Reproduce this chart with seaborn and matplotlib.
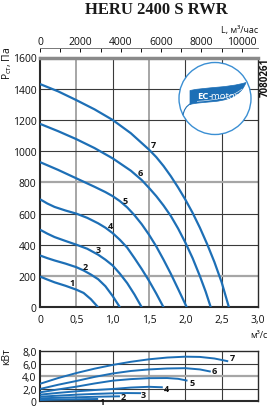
import numpy as np
import pandas as pd
import matplotlib
matplotlib.use("Agg")
import matplotlib.pyplot as plt
import seaborn as sns
from matplotlib.patches import Circle, PathPatch
from matplotlib.path import Path

sns.set_theme(style="white")
plt.rcParams['font.family'] = ['Open Sans', 'DejaVu Sans']

# ---------------- data ----------------
curve_names = ["1", "2", "3", "4", "5", "6", "7"]

q1 = [0, 0.1, 0.2, 0.35, 0.5, 0.6, 0.7, 0.8]
p1 = [197, 178, 160, 138, 113, 92, 52, 0]
q2 = [0, 0.1, 0.2, 0.35, 0.5, 0.6, 0.7, 0.8, 0.9, 1.0, 1.1]
p2 = [332, 315, 300, 280, 257, 236, 210, 180, 135, 72, 0]
q3 = [0, 0.1, 0.2, 0.35, 0.5, 0.65, 0.8, 0.9, 1.0, 1.1, 1.2, 1.3, 1.4]
p3 = [497, 472, 450, 425, 401, 375, 337, 305, 268, 215, 155, 82, 0]
q4 = [0, 0.1, 0.2, 0.35, 0.5, 0.65, 0.8, 0.9, 1.0, 1.1, 1.2, 1.3, 1.4, 1.5, 1.6, 1.7]
p4 = [692, 665, 643, 620, 600, 573, 538, 510, 475, 432, 382, 315, 245, 170, 88, 0]
q5 = [0, 0.25, 0.5, 0.75, 0.9, 1.0, 1.1, 1.2, 1.3, 1.4, 1.5, 1.6, 1.7, 1.8, 1.9, 2.02]
p5 = [930, 880, 826, 772, 738, 712, 680, 640, 590, 532, 465, 390, 305, 215, 118, 0]
q6 = [0, 0.25, 0.5, 0.75, 1.0, 1.25, 1.4, 1.5, 1.6, 1.7, 1.8, 1.9, 2.0, 2.1, 2.2, 2.28, 2.35]
p6 = [1175, 1128, 1077, 1020, 954, 875, 815, 765, 712, 652, 585, 505, 415, 315, 200, 100, 0]
q7 = [0, 0.25, 0.5, 0.75, 1.0, 1.25, 1.5, 1.6, 1.7, 1.8, 1.9, 2.0, 2.1, 2.2, 2.3, 2.4, 2.5, 2.6]
p7 = [1430, 1383, 1327, 1268, 1200, 1115, 1010, 962, 905, 840, 768, 690, 605, 510, 405, 290, 160, 0]

wq1 = [0, 0.2, 0.4, 0.6, 0.8]
w1 = [0.2, 0.26, 0.3, 0.34, 0.37]
wq2 = [0, 0.25, 0.5, 0.75, 1.0, 1.1]
w2 = [0.48, 0.56, 0.64, 0.72, 0.78, 0.8]
wq3 = [0, 0.25, 0.5, 0.75, 1.0, 1.2, 1.39]
w3 = [0.74, 0.9, 1.06, 1.18, 1.28, 1.32, 1.3]
wq4 = [0, 0.25, 0.5, 0.75, 1.0, 1.25, 1.5, 1.69]
w4 = [1.06, 1.35, 1.6, 1.8, 1.97, 2.2, 2.32, 2.24]
wq5 = [0, 0.25, 0.5, 0.75, 1.0, 1.25, 1.5, 1.75, 1.9, 2.03]
w5 = [1.44, 1.9, 2.34, 2.85, 3.3, 3.55, 3.7, 3.72, 3.6, 3.3]
wq6 = [0, 0.25, 0.5, 0.75, 1.0, 1.25, 1.5, 1.75, 2.0, 2.2, 2.35]
w6 = [1.97, 2.65, 3.25, 3.9, 4.45, 4.85, 5.1, 5.25, 5.3, 5.1, 4.75]
wq7 = [0, 0.25, 0.5, 0.75, 1.0, 1.25, 1.5, 1.75, 2.0, 2.2, 2.4, 2.59]
w7 = [2.8, 3.72, 4.52, 5.22, 5.82, 6.32, 6.72, 7.0, 7.14, 7.1, 6.85, 6.4]

# curve label anchor positions (data coords)
lab_q = [0.436, 0.62, 0.80, 0.964, 1.17, 1.377, 1.56]
lab_p = [161, 264, 369, 525, 686, 864, 1040]
wlab_q = [0.85, 1.15, 1.42, 1.745, 2.10, 2.40, 2.65]
wlab_w = [0.0, 0.74, 1.06, 1.97, 3.04, 5.0, 6.93]

x_ticks = [0, 0.5, 1.0, 1.5, 2.0, 2.5, 3.0]
x_ticklabels = ["0", "0,5", "1,0", "1,5", "2,0", "2,5", "3,0"]
p_ticks = [0, 200, 400, 600, 800, 1000, 1200, 1400, 1600]
w_ticks = [0, 2, 4, 6, 8]
w_ticklabels = ["0", "2,0", "4,0", "6,0", "8,0"]
L_ticks = [0, 1000, 2000, 3000, 4000, 5000, 6000, 7000, 8000, 9000, 10000]
L_ticklabels = ["0", "", "2000", "", "4000", "", "6000", "", "8000", "", "10000"]

title = "HERU 2400 S RWR"

# ---------------- frames ----------------
qs = [q1, q2, q3, q4, q5, q6, q7]
ps = [p1, p2, p3, p4, p5, p6, p7]
wqs = [wq1, wq2, wq3, wq4, wq5, wq6, wq7]
ws = [w1, w2, w3, w4, w5, w6, w7]
df_p = pd.concat([pd.DataFrame({"q": q, "p": p, "curve": n}) for q, p, n in zip(qs, ps, curve_names)])
df_w = pd.concat([pd.DataFrame({"q": q, "w": w, "curve": n}) for q, w, n in zip(wqs, ws, curve_names)])

W, H = 272, 410
BLUE = "#1d6fb6"
DARK = "#3a3a3a"
GRAY = "#a6a6a6"

fig = plt.figure(figsize=(W / 100, H / 100), dpi=100)
fig.patch.set_facecolor("white")

def fx(x):
    return x / W

def fy(y):
    return 1 - y / H

ax = fig.add_axes([fx(40), fy(308.3), 218 / W, 249.8 / H])
axw = fig.add_axes([fx(40), fy(402.3), 218 / W, 50 / H])

for a in (ax, axw):
    a.set_facecolor("white")
    a.grid(False)

# grid
for xv in [0.5, 1.0, 1.5, 2.0, 2.5]:
    gray = xv in (0.5, 1.5)
    ax.axvline(xv, color=GRAY if gray else DARK, lw=1.4 if gray else 0.8, zorder=1)
    axw.axvline(xv, color=GRAY if gray else DARK, lw=1.4 if gray else 0.8, zorder=1)
for yv in p_ticks[1:-1]:
    gray = yv in (200, 800)
    ax.axhline(yv, color=GRAY if gray else DARK, lw=1.6 if gray else 0.8, zorder=1)
for yv in [2, 4, 6]:
    gray = yv == 4
    axw.axhline(yv, color=GRAY if gray else DARK, lw=1.6 if gray else 0.8, zorder=1)

sns.lineplot(data=df_p, x="q", y="p", units="curve", estimator=None, sort=False,
             color=BLUE, linewidth=1.6, ax=ax, legend=False, zorder=3)
sns.lineplot(data=df_w, x="q", y="w", units="curve", estimator=None, sort=False,
             color=BLUE, linewidth=1.4, ax=axw, legend=False, zorder=3)
for ln in ax.lines + axw.lines:
    ln.set_solid_joinstyle("round")
    ln.set_solid_capstyle("butt")

for n, xq, yp in zip(curve_names, lab_q, lab_p):
    ax.text(xq, yp, n, fontsize=6.5, fontweight="bold", ha="center", va="center",
            color="#111111", zorder=4)
for n, xq, yw in zip(curve_names, wlab_q, wlab_w):
    axw.text(xq, yw, n, fontsize=6.5, fontweight="bold", ha="center", va="center",
             color="#111111", zorder=4, clip_on=False)

ax.set_xlim(0, 3)
ax.set_ylim(0, 1600)
ax.set_xticks(x_ticks)
ax.set_xticklabels(x_ticklabels)
ax.set_yticks(p_ticks)
ax.set_yticklabels([str(v) for v in p_ticks])
ax.set_xlabel("")
ax.set_ylabel("")
ax.tick_params(axis="both", length=0, labelsize=7.5, colors="#111111")
ax.tick_params(axis="x", pad=5)
ax.tick_params(axis="y", pad=2.5)

axw.set_xlim(0, 3)
axw.set_ylim(0, 8)
axw.set_xticks(x_ticks)
axw.set_xticklabels([])
axw.set_yticks(w_ticks)
axw.set_yticklabels(w_ticklabels)
axw.set_xlabel("")
axw.set_ylabel("")
axw.tick_params(axis="both", length=0, labelsize=7.5, colors="#111111")
axw.tick_params(axis="y", pad=2.5)

for a in (ax, axw):
    for s in ["left", "bottom", "right", "top"]:
        a.spines[s].set_visible(True)
        a.spines[s].set_color("#2a2a2a")
    a.spines["left"].set_linewidth(1.5)
    a.spines["bottom"].set_linewidth(1.5)
    a.spines["right"].set_linewidth(1.0)
ax.spines["top"].set_color("#8a8a8a")
ax.spines["top"].set_linewidth(2.5)
axw.spines["top"].set_linewidth(1.0)

# top axis in m3/h
sec = ax.secondary_xaxis((308.3 - 49.3) / 249.8, functions=(lambda q: q * 3600, lambda L: L / 3600))
sec.set_xticks(L_ticks)
sec.set_xticklabels(L_ticklabels)
sec.tick_params(direction="in", length=2.6, width=0.7, colors="#111111", labelsize=7.5, pad=1)
sec.spines["top"].set_color("#777777")
sec.spines["top"].set_linewidth(0.7)
sec.spines["top"].set_visible(True)

# texts
fig.text(fx(156), fy(10), title, fontsize=12, fontweight="bold", ha="center", va="center",
         family=["Liberation Serif", "DejaVu Serif"], color="#1a1a1a")
fig.text(fx(258), fy(30), "L, м³/час", fontsize=6.5, ha="right", va="center", color="#111111")
fig.text(fx(7), fy(63), r"Р$_{\mathregular{ст}}$, Па", fontsize=7.5, rotation=90, ha="center",
         va="center", color="#111111")
fig.text(fx(7), fy(357), "кВт", fontsize=7.5, rotation=90, ha="center", va="center", color="#111111")
fig.text(fx(259), fy(336), "м³/с", fontsize=6.5, ha="center", va="center", color="#111111")
fig.text(fx(265.5), fy(77), "7080261", fontsize=7, rotation=90, fontweight="bold",
         ha="center", va="center", color="#111111")

# EC-motor logo overlay (pixel coordinates)
ov = fig.add_axes([0, 0, 1, 1], zorder=5)
ov.set_xlim(0, W)
ov.set_ylim(H, 0)
ov.axis("off")
ov.patch.set_alpha(0)
ov.add_patch(Circle((215, 99.5), 36, facecolor="white", edgecolor="#3b8fd3", lw=1.0))
leaf_verts = [(190, 91.5), (206, 88), (228, 89), (246, 83.5),
              (242, 94), (233, 100.5), (215, 102.5),
              (204, 103.5), (195, 104), (190, 105.5),
              (190, 91.5)]
leaf_codes = [Path.MOVETO, Path.CURVE4, Path.CURVE4, Path.CURVE4,
              Path.CURVE4, Path.CURVE4, Path.CURVE4,
              Path.CURVE4, Path.CURVE4, Path.CURVE4,
              Path.CLOSEPOLY]
ov.add_patch(PathPatch(Path(leaf_verts, leaf_codes), facecolor=BLUE, edgecolor=BLUE, lw=0.5))
stem = Path([(191, 104.5), (186, 107), (184, 111), (183, 116)],
            [Path.MOVETO, Path.CURVE4, Path.CURVE4, Path.CURVE4])
ov.add_patch(PathPatch(stem, facecolor="none", edgecolor=BLUE, lw=0.8))
vein = Path([(197, 102.3), (215, 101.3), (232, 98.5), (242, 90)],
            [Path.MOVETO, Path.CURVE4, Path.CURVE4, Path.CURVE4])
ov.add_patch(PathPatch(vein, facecolor="none", edgecolor="white", lw=0.4))
ov.text(208.5, 96.5, "EC", fontsize=6.8, fontweight="bold", color="white", ha="right", va="center")
ov.text(208.5, 96.5, "-motor", fontsize=6.8, color="white", ha="left", va="center")

fig.savefig("out.png", dpi=100, facecolor="white")
